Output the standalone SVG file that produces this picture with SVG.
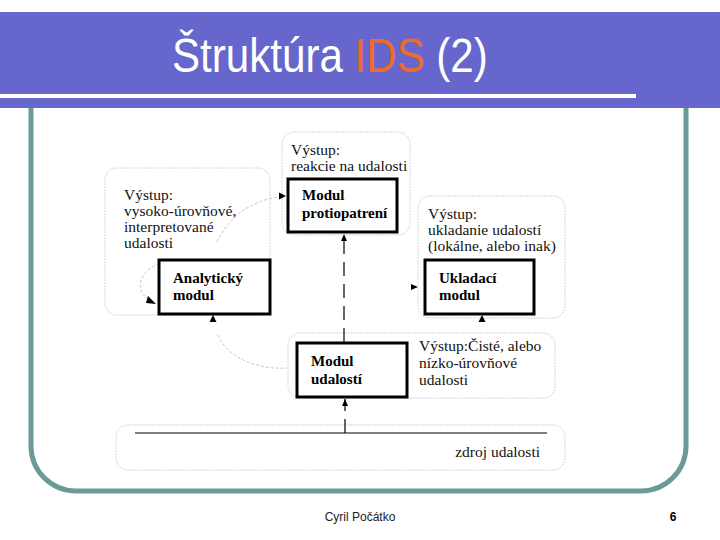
<svg xmlns="http://www.w3.org/2000/svg" width="720" height="540" viewBox="0 0 720 540">
<defs>
<style>
.frame{fill:none;stroke:#6b9b98;stroke-width:5}
.grp{fill:none;stroke:#d4d4d4;stroke-width:1;stroke-dasharray:2 1}
.mod{fill:#fff;stroke:#000;stroke-width:3}
.t{font-family:"Liberation Serif","Times New Roman",serif;font-size:15.5px;fill:#111}
.b{font-family:"Liberation Serif","Times New Roman",serif;font-size:15px;font-weight:bold;fill:#000}
.dash{fill:none;stroke:#000;stroke-width:1.2;stroke-dasharray:14 8}
.soft{fill:none;stroke:#c8c8c8;stroke-width:1;stroke-dasharray:3 2}
.sans{font-family:"Liberation Sans",Arial,sans-serif}
.ttl{font-family:"Liberation Sans",Arial,sans-serif;font-size:48px;fill:#fff}
.ttl.hl{fill:#f06a2a}
</style>
<marker id="ah" markerWidth="8" markerHeight="8" refX="7" refY="4" orient="auto" markerUnits="userSpaceOnUse">
<path d="M0,1 L7,4 L0,7 Z" fill="#000"/>
</marker>
</defs>
<rect x="0" y="0" width="720" height="540" fill="#fff"/>
<g id="banner">
<rect x="0" y="12" width="720" height="96" fill="#6666cc"/>
<rect x="0" y="94" width="636" height="4" fill="#fff"/>
<g transform="translate(172,72) scale(0.878,1)">
<text class="ttl" x="0" y="0">Štruktúra</text>
<text class="ttl hl" x="208" y="0">IDS</text>
<text class="ttl" x="301" y="0">(2)</text>
</g>
</g>
<path class="frame" d="M31,108 V446 A45,45 0 0 0 76,491 H641 A45,45 0 0 0 686,446 V108"/>
<g id="groups">
<rect class="grp" x="282" y="132" width="128" height="103" rx="12"/>
<rect class="grp" x="105" y="168" width="165" height="147" rx="12"/>
<rect class="grp" x="418" y="196" width="147" height="122" rx="12"/>
<rect class="grp" x="288" y="333" width="267" height="65" rx="12"/>
<rect class="grp" x="116" y="425" width="449" height="45" rx="12"/>
</g>
<g id="connectors">
<line class="dash" x1="344" y1="342" x2="344" y2="234" marker-end="url(#ah)"/>
<line class="dash" x1="345" y1="433" x2="345" y2="399" stroke-dasharray="12 6" marker-end="url(#ah)"/>
<path class="soft" d="M217,242 C228,220 245,202 282,196"/>
<path d="M279,192.5 L286,196 L279,199.5 Z" fill="#000"/>
<path class="soft" d="M164,262 C140,268 132,290 150,300"/>
<path d="M148,296 L156,304 L146,303 Z" fill="#000"/>
<path class="soft" d="M218,335 C226,356 255,370 287,368"/>
<path d="M213,315 L216.5,322 L209.5,322 Z" fill="#000"/>
<path d="M411,284 L418,287 L411,290 Z" fill="#000"/>
<path d="M482,315 L485.5,322 L478.5,322 Z" fill="#000"/>
</g>
<g id="reakcie">
<text class="t" x="291" y="155">Výstup:</text>
<text class="t" x="291" y="171">reakcie na udalosti</text>
</g>
<g id="modul-protiopatreni">
<rect class="mod" x="288" y="179" width="109" height="53"/>
<text class="b" x="302" y="200">Modul</text>
<text class="b" x="302" y="218">protiopatrení</text>
</g>
<g id="vysoko">
<text class="t" x="124" y="200">Výstup:</text>
<text class="t" x="124" y="216">vysoko-úrovňové,</text>
<text class="t" x="124" y="232">interpretované</text>
<text class="t" x="124" y="248">udalosti</text>
</g>
<g id="analyticky-modul">
<rect class="mod" x="159" y="260" width="111" height="54"/>
<text class="b" x="173" y="283">Analytický</text>
<text class="b" x="173" y="300">modul</text>
</g>
<g id="ukladanie">
<text class="t" x="428" y="219">Výstup:</text>
<text class="t" x="428" y="235">ukladanie udalostí</text>
<text class="t" x="428" y="251">(lokálne, alebo inak)</text>
</g>
<g id="ukladaci-modul">
<rect class="mod" x="425" y="260" width="109" height="54"/>
<text class="b" x="439" y="283">Ukladací</text>
<text class="b" x="439" y="300">modul</text>
</g>
<g id="modul-udalosti">
<rect class="mod" x="297" y="343" width="110" height="54"/>
<text class="b" x="311" y="366">Modul</text>
<text class="b" x="311" y="384">udalostí</text>
</g>
<g id="ciste">
<text class="t" x="419" y="351">Výstup:Čisté, alebo</text>
<text class="t" x="419" y="368">nízko-úrovňové</text>
<text class="t" x="419" y="385">udalosti</text>
</g>
<g id="zdroj">
<line x1="135" y1="433" x2="547" y2="433" stroke="#000" stroke-width="1.2"/>
<text class="t" x="540" y="457" text-anchor="end">zdroj udalosti</text>
</g>
<g id="footer">
<text class="sans" x="360" y="521" font-size="12" text-anchor="middle" fill="#222">Cyril Počátko</text>
<text class="sans" x="673" y="521" font-size="12" font-weight="bold" text-anchor="middle" fill="#000">6</text>
</g>
</svg>
